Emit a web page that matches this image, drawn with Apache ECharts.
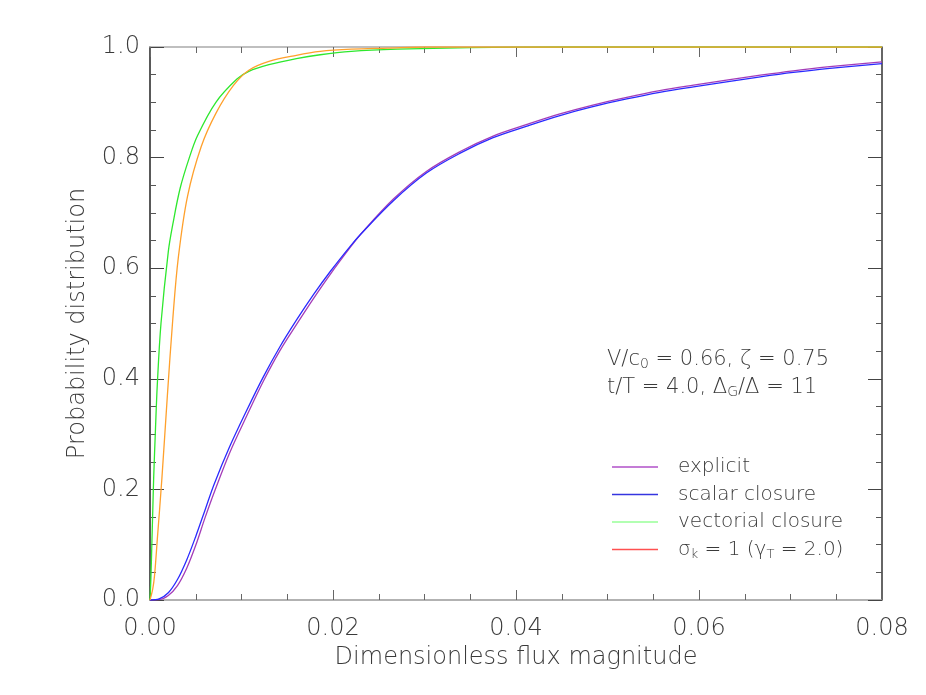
<!DOCTYPE html>
<html>
<head>
<meta charset="utf-8">
<script src="https://cdn.jsdelivr.net/npm/echarts@6/dist/echarts.min.js"></script>
<style>
  html, body { margin: 0; padding: 0; background: #fff; }
  #chart { width: 926px; height: 695px; }
</style>
</head>
<body>
<div id="chart"></div>
<script>
// values, [flux, probability]
const explicitCurve = [
  [0, 0], [0.001, 0.0005], [0.002, 0.008], [0.003, 0.026], [0.004, 0.057],
  [0.005, 0.099], [0.006, 0.148], [0.007, 0.194], [0.0087, 0.266], [0.0106, 0.334],
  [0.0124, 0.396], [0.0142, 0.451], [0.016, 0.498], [0.0179, 0.546], [0.0197, 0.589],
  [0.0219, 0.638], [0.023, 0.661], [0.0266, 0.725], [0.0302, 0.775], [0.0339, 0.811],
  [0.0375, 0.839], [0.0412, 0.86], [0.0448, 0.879], [0.0484, 0.895], [0.0521, 0.909],
  [0.0557, 0.921], [0.0594, 0.931], [0.063, 0.94], [0.0667, 0.949], [0.0703, 0.957],
  [0.074, 0.964], [0.08, 0.973]
];
const scalarCurve = [
  [0, 0], [0.001, 0.002], [0.002, 0.013], [0.003, 0.037], [0.004, 0.072],
  [0.005, 0.115], [0.006, 0.162], [0.007, 0.209], [0.0087, 0.277], [0.0106, 0.344],
  [0.0124, 0.404], [0.0142, 0.458], [0.016, 0.506], [0.0179, 0.553], [0.0197, 0.594],
  [0.0219, 0.64], [0.023, 0.661], [0.0266, 0.722], [0.0302, 0.772], [0.0339, 0.808],
  [0.0375, 0.836], [0.0412, 0.857], [0.0448, 0.876], [0.0484, 0.892], [0.0521, 0.906],
  [0.0557, 0.918], [0.0594, 0.928], [0.063, 0.937], [0.0667, 0.946], [0.0703, 0.954],
  [0.074, 0.961], [0.08, 0.97]
];
const vectorialCurve = [
  [0, 0], [0.0001, 0.04], [0.0002, 0.1], [0.0003, 0.16], [0.0004, 0.22],
  [0.0006, 0.31], [0.0008, 0.39], [0.0012, 0.5], [0.002, 0.63], [0.0025, 0.68],
  [0.0033, 0.745], [0.0043, 0.8], [0.0052, 0.84], [0.0072, 0.9], [0.0095, 0.942],
  [0.0108, 0.956], [0.013, 0.968], [0.016, 0.979], [0.0186, 0.986], [0.022, 0.992],
  [0.027, 0.996], [0.035, 0.999], [0.045, 1.0], [0.08, 1.0]
];
const sigmaCurve = [
  [0, 0], [0.0003, 0.02], [0.0005, 0.045], [0.0008, 0.11], [0.0013, 0.22],
  [0.0019, 0.37], [0.0025, 0.51], [0.0031, 0.62], [0.0041, 0.73], [0.0056, 0.82],
  [0.0072, 0.88], [0.0091, 0.93], [0.0108, 0.958], [0.013, 0.974], [0.016, 0.985],
  [0.0186, 0.992], [0.022, 0.996], [0.026, 0.998], [0.03, 1.0], [0.08, 1.0]
];
const seriesNames = ['explicit', 'scalar closure', 'vectorial closure', 'σk = 1 (γT = 2.0)'];
const curveColors = ['#a43cb8', '#2a2aff', '#2ee82e', '#ffa02c'];
const legendColors = ['#b050c8', '#3535e0', '#99ff99', '#ff5050'];

const font = 'DejaVu Sans';
const textColor = '#3a3a3a';

const chart = echarts.init(document.getElementById('chart'));

const xBase = {
  type: 'value', min: 0, max: 0.08, interval: 0.02,
  splitLine: { show: false },
  axisLine: { onZero: false, lineStyle: { color: '#999', width: 1.5 } },
  axisTick: { inside: true, length: 10, lineStyle: { color: '#666' } },
  minorTick: { show: true, splitNumber: 4, length: 6, lineStyle: { color: '#666' } }
};
const yBase = {
  type: 'value', min: 0, max: 1, interval: 0.2,
  splitLine: { show: false },
  axisLine: { onZero: false, lineStyle: { color: '#222', width: 1.5 } },
  axisTick: { inside: true, length: 14, lineStyle: { color: '#444' } },
  minorTick: { show: true, splitNumber: 4, length: 6, lineStyle: { color: '#555' } }
};

const option = {
  backgroundColor: '#fff',
  animation: false,
  grid: { left: 150, right: 44, top: 47, bottom: 95 },
  xAxis: [
    Object.assign({}, xBase, {
      position: 'bottom',
      name: 'Dimensionless flux magnitude',
      nameLocation: 'middle', nameGap: 46,
      nameTextStyle: { fontFamily: font, fontSize: 24, fontWeight: 200, color: textColor },
      axisLabel: {
        margin: 17, fontFamily: font, fontSize: 24, fontWeight: 200, color: textColor,
        formatter: v => v.toFixed(2)
      }
    }),
    Object.assign({}, xBase, {
      position: 'top',
      axisLine: { onZero: false, lineStyle: { color: '#aaa', width: 1.5 } },
      axisLabel: { show: false }
    })
  ],
  yAxis: [
    Object.assign({}, yBase, {
      position: 'left',
      name: 'Probability distribution',
      nameLocation: 'middle', nameGap: 60,
      nameTextStyle: { fontFamily: font, fontSize: 24, fontWeight: 200, color: textColor },
      axisLabel: {
        margin: 10, fontFamily: font, fontSize: 24, fontWeight: 200, color: textColor,
        formatter: v => v.toFixed(1)
      }
    }),
    Object.assign({}, yBase, {
      position: 'right',
      axisLine: { onZero: false, lineStyle: { color: '#333', width: 1.5 } },
      axisLabel: { show: false }
    })
  ],
  legend: {
    orient: 'vertical',
    left: 607, top: 452,
    icon: 'rect',
    itemWidth: 46, itemHeight: 1.5,
    itemGap: 7.5,
    data: seriesNames.map((n, i) => ({ name: n, itemStyle: { color: legendColors[i] } })),
    textStyle: {
      fontFamily: font, fontSize: 20, fontWeight: 200, color: textColor,
      lineHeight: 20, padding: [0, 0, 0, 15],
      rich: {
        n: { fontFamily: font, fontSize: 20, fontWeight: 200, color: textColor },
        s: { fontFamily: font, fontSize: 13, fontWeight: 200, color: textColor, padding: [10, 0, 0, 0] }
      }
    },
    formatter: name => name === seriesNames[3]
      ? '{n|σ}{s|k}{n| = 1 (γ}{s|T}{n| = 2.0)}'
      : name
  },
  graphic: [
    {
      type: 'text', left: 607, top: 349,
      style: {
        text: '{n|V/c}{s|0}{n| = 0.66, ζ = 0.75}',
        rich: {
          n: { fontFamily: font, fontSize: 21, fontWeight: 200, fill: textColor },
          s: { fontFamily: font, fontSize: 14, fontWeight: 200, fill: textColor, padding: [10, 0, 0, 0] }
        }
      }
    },
    {
      type: 'text', left: 607, top: 377,
      style: {
        text: '{n|t/T = 4.0, Δ}{s|G}{n|/Δ = 11}',
        rich: {
          n: { fontFamily: font, fontSize: 21, fontWeight: 200, fill: textColor },
          s: { fontFamily: font, fontSize: 14, fontWeight: 200, fill: textColor, padding: [10, 0, 0, 0] }
        }
      }
    }
  ],
  series: [explicitCurve, scalarCurve, vectorialCurve, sigmaCurve].map((d, i) => ({
    name: seriesNames[i],
    type: 'line',
    data: d,
    showSymbol: false,
    smooth: 0.35,
    lineStyle: { color: curveColors[i], width: 1.3 },
    itemStyle: { color: curveColors[i] }
  }))
};

chart.setOption(option);
</script>
</body>
</html>
